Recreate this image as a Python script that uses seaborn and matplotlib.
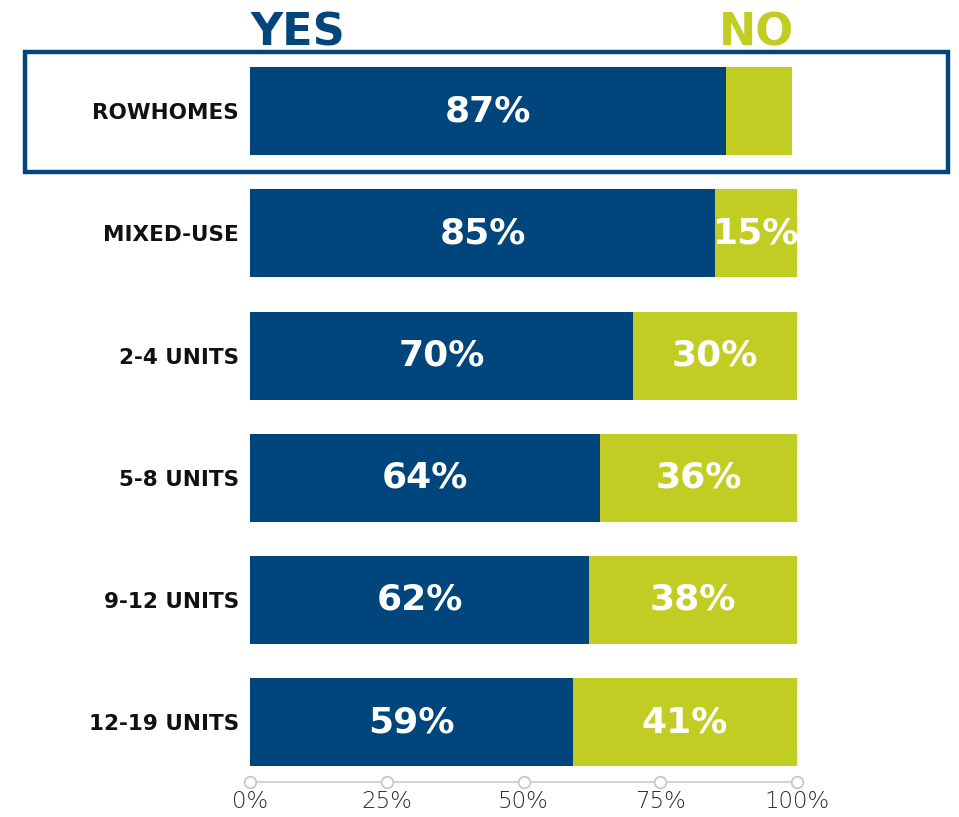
import numpy as np
import pandas as pd
import seaborn as sns
import matplotlib.pyplot as plt
from matplotlib.patches import Rectangle

# Survey shares per housing type
categories = ["ROWHOMES", "MIXED-USE", "2-4 UNITS", "5-8 UNITS", "9-12 UNITS", "12-19 UNITS"]
yes_pct = [87, 85, 70, 64, 62, 59]
no_pct = [12, 15, 30, 36, 38, 41]
no_labeled = [False, True, True, True, True, True]
tick_values = [0, 25, 50, 75, 100]
tick_labels = ["0%", "25%", "50%", "75%", "100%"]

NAVY = "#00457C"
LIME = "#C1CD23"

sns.set_theme(style="white")
plt.rcParams["font.family"] = ["DejaVu Sans"]

df = pd.DataFrame({"category": categories, "yes": yes_pct, "no": no_pct})
df["total"] = df["yes"] + df["no"]

W, H = 959, 817
fig = plt.figure(figsize=(W / 100, H / 100), dpi=100)
ax = fig.add_axes([250 / W, 35 / H, 547 / W, 732 / H])

# stacked horizontal bars: full length in lime, "yes" part on top in navy
sns.barplot(data=df, x="total", y="category", color=LIME, width=0.72,
            saturation=1, orient="h", linewidth=0, ax=ax)
sns.barplot(data=df, x="yes", y="category", color=NAVY, width=0.72,
            saturation=1, orient="h", linewidth=0, ax=ax)

y_bottom = 5.49
ax.set_xlim(0, 100)
ax.set_ylim(y_bottom, -0.5)

for i, (y, n, lab) in enumerate(zip(yes_pct, no_pct, no_labeled)):
    ax.text(y / 2, i, f"{y}%", ha="center", va="center", color="white",
            fontsize=26, fontweight="bold")
    if lab:
        ax.text(y + n / 2, i, f"{n}%", ha="center", va="center", color="white",
                fontsize=26, fontweight="bold")

# category labels
ax.set_ylabel("")
ax.set_xlabel("")
ax.tick_params(axis="y", length=0, pad=8)
for t in ax.get_yticklabels():
    t.set_fontsize(15.5)
    t.set_fontweight("bold")
    t.set_color("#111111")

# x axis: thin grey line with hollow circle ticks
for side in ["top", "right", "left"]:
    ax.spines[side].set_visible(False)
ax.spines["bottom"].set_color("#D3D3D3")
ax.spines["bottom"].set_linewidth(1.5)
ax.set_xticks(tick_values)
ax.set_xticklabels(tick_labels, fontsize=16.5, color="#2A2A2A", fontweight="light")
ax.tick_params(axis="x", length=0, pad=6)
ax.scatter(tick_values, [y_bottom] * len(tick_values), s=70, facecolor="white",
           edgecolor="#C8C8C8", linewidth=1.3, clip_on=False, zorder=5)

# column headers
fig.text(250 / W, (H - 45) / H, "YES", ha="left", va="baseline",
         fontsize=32, fontweight="bold", color=NAVY)
fig.text(794 / W, (H - 45) / H, "NO", ha="right", va="baseline",
         fontsize=32, fontweight="bold", color=LIME)

# highlight frame around the first row
fig.patches.append(Rectangle((25 / W, (H - 172) / H), 923 / W, 120 / H,
                             transform=fig.transFigure, fill=False,
                             edgecolor=NAVY, linewidth=3.2))

fig.savefig("out.png", dpi=100)
